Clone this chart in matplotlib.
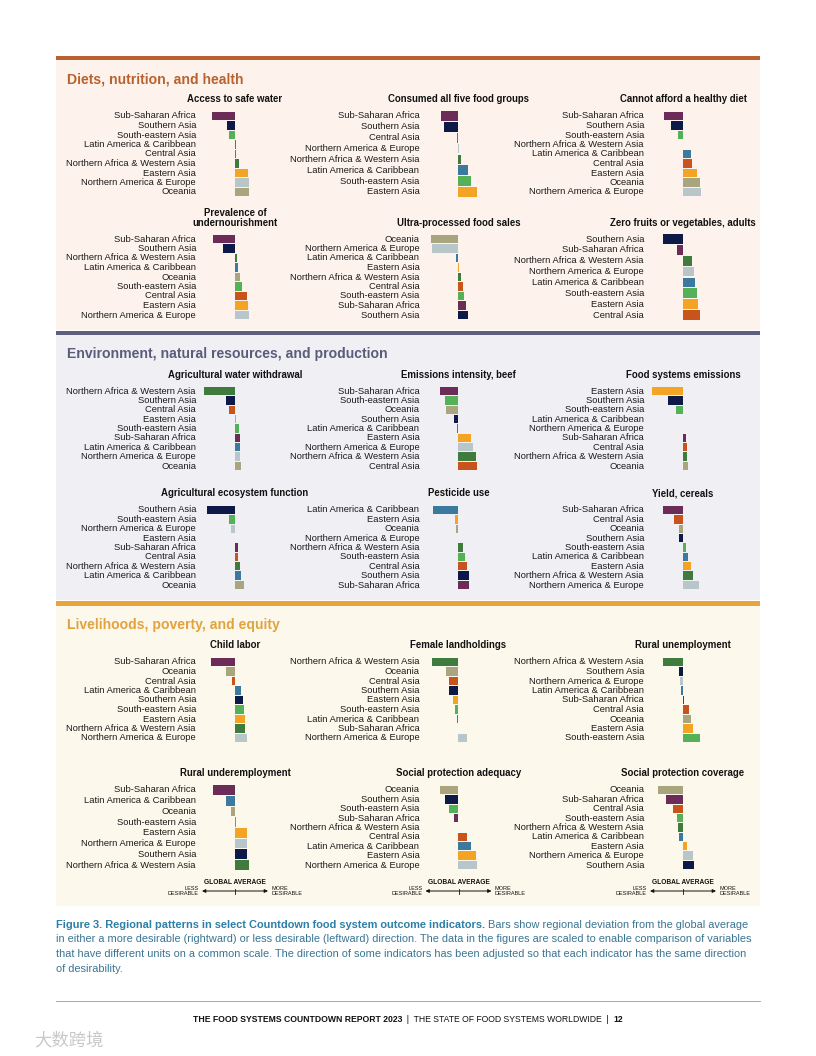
import matplotlib
matplotlib.use('Agg')
import matplotlib.pyplot as plt
from matplotlib.patches import Rectangle

plt.rcParams['font.family'] = ['Liberation Sans', 'DejaVu Sans']

# region names and colours
names = {
    'SSA': 'Sub-Saharan Africa', 'SA': 'Southern Asia', 'SEA': 'South-eastern Asia',
    'LAC': 'Latin America & Caribbean', 'CA': 'Central Asia',
    'NAWA': 'Northern Africa & Western Asia', 'EA': 'Eastern Asia',
    'NAE': 'Northern America & Europe', 'OC': 'Oceania',
}
colors = {
    'SSA': '#6b2c57', 'SA': '#0d1a47', 'SEA': '#55b158', 'LAC': '#3b7a9e',
    'CA': '#c9531d', 'NAWA': '#3f7b3d', 'EA': '#f3a424', 'NAE': '#b9c6c9',
    'OC': '#a9a57f',
}

# values: deviation from global average (scaled, + = more desirable)
safe_water_regions = ['SSA', 'SA', 'SEA', 'LAC', 'CA', 'NAWA', 'EA', 'NAE', 'OC']
safe_water_values = [-22.7, -8, -5.7, 0.6, 1, 4.3, 13.3, 13.7, 13.7]

five_groups_regions = ['SSA', 'SA', 'CA', 'NAE', 'NAWA', 'LAC', 'SEA', 'EA']
five_groups_values = [-17.7, -14.7, -1.5, 0.3, 3, 9.7, 13, 18.7]

healthy_diet_regions = ['SSA', 'SA', 'SEA', 'NAWA', 'LAC', 'CA', 'EA', 'OC', 'NAE']
healthy_diet_values = [-18.7, -12, -5, 0.3, 8.3, 9.3, 14, 17.3, 18]

undernourish_regions = ['SSA', 'SA', 'NAWA', 'LAC', 'OC', 'SEA', 'CA', 'EA', 'NAE']
undernourish_values = [-22.3, -11.7, 2.3, 3.3, 5, 7.3, 12, 13, 14]

ultra_proc_regions = ['OC', 'NAE', 'LAC', 'EA', 'NAWA', 'CA', 'SEA', 'SSA', 'SA']
ultra_proc_values = [-27.3, -26, -2.7, 0.3, 3, 4.3, 5.3, 8, 9.3]

zero_fv_regions = ['SA', 'SSA', 'NAWA', 'NAE', 'LAC', 'SEA', 'EA', 'CA']
zero_fv_values = [-19.7, -6, 9.3, 11.3, 12.3, 14, 15.3, 16.7]

ag_water_regions = ['NAWA', 'SA', 'CA', 'EA', 'SEA', 'SSA', 'LAC', 'NAE', 'OC']
ag_water_values = [-30.7, -9, -5.7, 0.8, 3.7, 5, 5, 5.3, 5.7]

beef_regions = ['SSA', 'SEA', 'OC', 'SA', 'LAC', 'EA', 'NAE', 'NAWA', 'CA']
beef_values = [-18, -13.7, -12.3, -4, -1.5, 12.7, 15, 17.7, 18.3]

fs_emis_regions = ['EA', 'SA', 'SEA', 'LAC', 'NAE', 'SSA', 'CA', 'NAWA', 'OC']
fs_emis_values = [-31, -15, -7, -0.3, 0.3, 3.3, 4.3, 4.3, 5]

ecosys_regions = ['SA', 'SEA', 'NAE', 'EA', 'SSA', 'CA', 'NAWA', 'LAC', 'OC']
ecosys_values = [-28, -6.3, -3.6, 0.2, 2.7, 3.2, 5.4, 6.3, 8.6]

pesticide_regions = ['LAC', 'EA', 'OC', 'NAE', 'NAWA', 'SEA', 'CA', 'SA', 'SSA']
pesticide_values = [-25.7, -3.6, -2.3, -0.5, 4.5, 6.8, 8.6, 10.8, 10.8]

cereals_regions = ['SSA', 'CA', 'OC', 'SA', 'SEA', 'LAC', 'EA', 'NAWA', 'NAE']
cereals_values = [-20.3, -9, -4.5, -4, 2.7, 4.5, 8.1, 10.4, 15.8]

child_labor_regions = ['SSA', 'OC', 'CA', 'LAC', 'SA', 'SEA', 'EA', 'NAWA', 'NAE']
child_labor_values = [-24.3, -9.5, -2.7, 6.3, 7.7, 8.6, 9.5, 9.9, 11.7]

female_land_regions = ['NAWA', 'OC', 'CA', 'SA', 'EA', 'SEA', 'LAC', 'SSA', 'NAE']
female_land_values = [-26.6, -12.6, -9.9, -9, -5.9, -3.6, -1.8, 0, 9]

rural_unemp_regions = ['NAWA', 'SA', 'NAE', 'LAC', 'SSA', 'CA', 'OC', 'EA', 'SEA']
rural_unemp_values = [-19.8, -4.5, -3.2, -2.3, 0.6, 5.9, 7.7, 9.5, 17.1]

rural_under_regions = ['SSA', 'LAC', 'OC', 'SEA', 'EA', 'NAE', 'SA', 'NAWA']
rural_under_values = [-22.5, -8.6, -3.6, 0.7, 11.7, 12.2, 12.2, 14.4]

sp_adequacy_regions = ['OC', 'SA', 'SEA', 'SSA', 'NAWA', 'CA', 'LAC', 'EA', 'NAE']
sp_adequacy_values = [-18, -13, -9.9, -4, 0, 8.1, 12.6, 18, 18.5]

sp_coverage_regions = ['OC', 'SSA', 'CA', 'SEA', 'NAWA', 'LAC', 'EA', 'NAE', 'SA']
sp_coverage_values = [-24.8, -17.1, -9.9, -6.3, -5.4, -4, 3.6, 9.5, 11.3]

# layout (pixels)
W, H = 816, 1056
col_zero = [235, 458.5, 683]
rows = [(100, 116, 192), (223, 239, 315), (375, 391, 466),
        (494, 510, 585), (646, 662, 738), (774, 790, 865)]

panels = [
    ('Access to safe water', safe_water_regions, safe_water_values, 0, 0),
    ('Consumed all five food groups', five_groups_regions, five_groups_values, 1, 0),
    ('Cannot afford a healthy diet', healthy_diet_regions, healthy_diet_values, 2, 0),
    ('Prevalence of\nundernourishment', undernourish_regions, undernourish_values, 0, 1),
    ('Ultra-processed food sales', ultra_proc_regions, ultra_proc_values, 1, 1),
    ('Zero fruits or vegetables, adults', zero_fv_regions, zero_fv_values, 2, 1),
    ('Agricultural water withdrawal', ag_water_regions, ag_water_values, 0, 2),
    ('Emissions intensity, beef', beef_regions, beef_values, 1, 2),
    ('Food systems emissions', fs_emis_regions, fs_emis_values, 2, 2),
    ('Agricultural ecosystem function', ecosys_regions, ecosys_values, 0, 3),
    ('Pesticide use', pesticide_regions, pesticide_values, 1, 3),
    ('Yield, cereals', cereals_regions, cereals_values, 2, 3),
    ('Child labor', child_labor_regions, child_labor_values, 0, 4),
    ('Female landholdings', female_land_regions, female_land_values, 1, 4),
    ('Rural unemployment', rural_unemp_regions, rural_unemp_values, 2, 4),
    ('Rural underemployment', rural_under_regions, rural_under_values, 0, 5),
    ('Social protection adequacy', sp_adequacy_regions, sp_adequacy_values, 1, 5),
    ('Social protection coverage', sp_coverage_regions, sp_coverage_values, 2, 5),
]

fig = plt.figure(figsize=(W / 100, H / 100), dpi=100)
fig.patch.set_facecolor('white')

# background axes in pixel coordinates
ov = fig.add_axes([0, 0, 1, 1])
ov.set_xlim(0, W)
ov.set_ylim(H, 0)
ov.axis('off')

sections = [
    ('Diets, nutrition, and health', 56, 60, 330, '#b8622f', '#fdf3ec', '#b8622f'),
    ('Environment, natural resources, and production', 331, 335, 600, '#5f5f80', '#f0f0f4', '#5a5c7a'),
    ('Livelihoods, poverty, and equity', 601, 606, 906, '#e9a33c', '#fdf8ec', '#e2a23d'),
]
for title, r0, b0, b1, rc, bg, tc in sections:
    ov.add_patch(Rectangle((56, r0), 704, b0 - r0, color=rc, lw=0))
    ov.add_patch(Rectangle((56, b0), 704, b1 - b0, color=bg, lw=0))
    ov.text(67, b0 + 19, title, fontsize=10.1, fontweight='bold', color=tc,
            ha='left', va='center')

# small bar panels
for title, regs, vals, c, r in panels:
    ty, y0, y1 = rows[r]
    n = len(regs)
    sp = (y1 - y0) / (n - 1)
    top = y0 - sp / 2
    bot = y1 + sp / 2
    z = col_zero[c]
    ax = fig.add_axes([(z - 40) / W, 1 - bot / H, 80 / W, (bot - top) / H])
    ax.set_facecolor('none')
    ax.barh(range(n), vals, height=0.9, color=[colors[k] for k in regs], lw=0)
    ax.set_xlim(-40, 40)
    ax.set_ylim(n - 0.5, -0.5)
    ax.axis('off')
    for i, k in enumerate(regs):
        ax.text(-39, i, names[k], ha='right', va='center', fontsize=6.75,
                color='#1a1a1a', clip_on=False)
    ov.text(z, ty + 4.5, title, ha='center', va='bottom', fontsize=6.9,
            fontweight='bold', color='#111111', linespacing=1.0)

# global average keys
for z in col_zero:
    ov.text(z, 883, 'GLOBAL AVERAGE', ha='center', va='center', fontsize=4.8,
            fontweight='bold', color='#111111')
    ov.annotate('', xy=(z - 33, 891), xytext=(z + 33, 891),
                arrowprops=dict(arrowstyle='<|-|>', lw=0.7, color='#111111',
                                mutation_scale=5, shrinkA=0, shrinkB=0))
    ov.plot([z, z], [888.5, 893.5], color='#111111', lw=0.6)
    ov.text(z - 36, 891, 'LESS\nDESIRABLE', ha='right', va='center', fontsize=4.0,
            multialignment='right', color='#111111', linespacing=1.1)
    ov.text(z + 36, 891, 'MORE\nDESIRABLE', ha='left', va='center', fontsize=4.0,
            multialignment='left', color='#111111', linespacing=1.1)

renderer = fig.canvas.get_renderer()


def write_pieces(x, y, pieces, size, center=False):
    objs = []
    cx = x
    for txt, weight, col in pieces:
        t = ov.text(cx, y, txt, fontsize=size, fontweight=weight, color=col,
                    ha='left', va='center')
        w = t.get_window_extent(renderer).width
        objs.append(t)
        cx += w
    if center:
        shift = (cx - x) / 2
        for t in objs:
            tx, ty = t.get_position()
            t.set_position((tx - shift, ty))


# caption
cap_b = '#2c7fa8'
cap_r = '#3a7594'
cap_size = 7.95
write_pieces(56, 925, [
    ('Figure 3. Regional patterns in select Countdown food system outcome indicators.', 'bold', cap_b),
    (' Bars show regional deviation from the global average', 'normal', cap_r)], cap_size)
cap_lines = [
    'in either a more desirable (rightward) or less desirable (leftward) direction. The data in the figures are scaled to enable comparison of variables',
    'that have different units on a common scale. The direction of some indicators has been adjusted so that each indicator has the same direction',
    'of desirability.',
]
for i, line in enumerate(cap_lines):
    ov.text(56, 939.5 + i * 14.5, line, fontsize=cap_size, color=cap_r, ha='left', va='center')

# footer
ov.plot([56, 760], [1001, 1001], color='#9a9a9a', lw=0.6)
write_pieces(408, 1020, [
    ('THE FOOD SYSTEMS COUNTDOWN REPORT 2023', 'bold', '#111111'),
    ('  |  THE STATE OF FOOD SYSTEMS WORLDWIDE  |  ', 'normal', '#111111'),
    ('12', 'bold', '#111111')], 6.2, center=True)

# watermark
ov.text(34, 1040, '大数跨境', fontsize=12.5, color='#c8c8c8', ha='left', va='center',
        family=['Noto Sans CJK SC', 'DejaVu Sans'])

fig.savefig('out.png', dpi=100)
